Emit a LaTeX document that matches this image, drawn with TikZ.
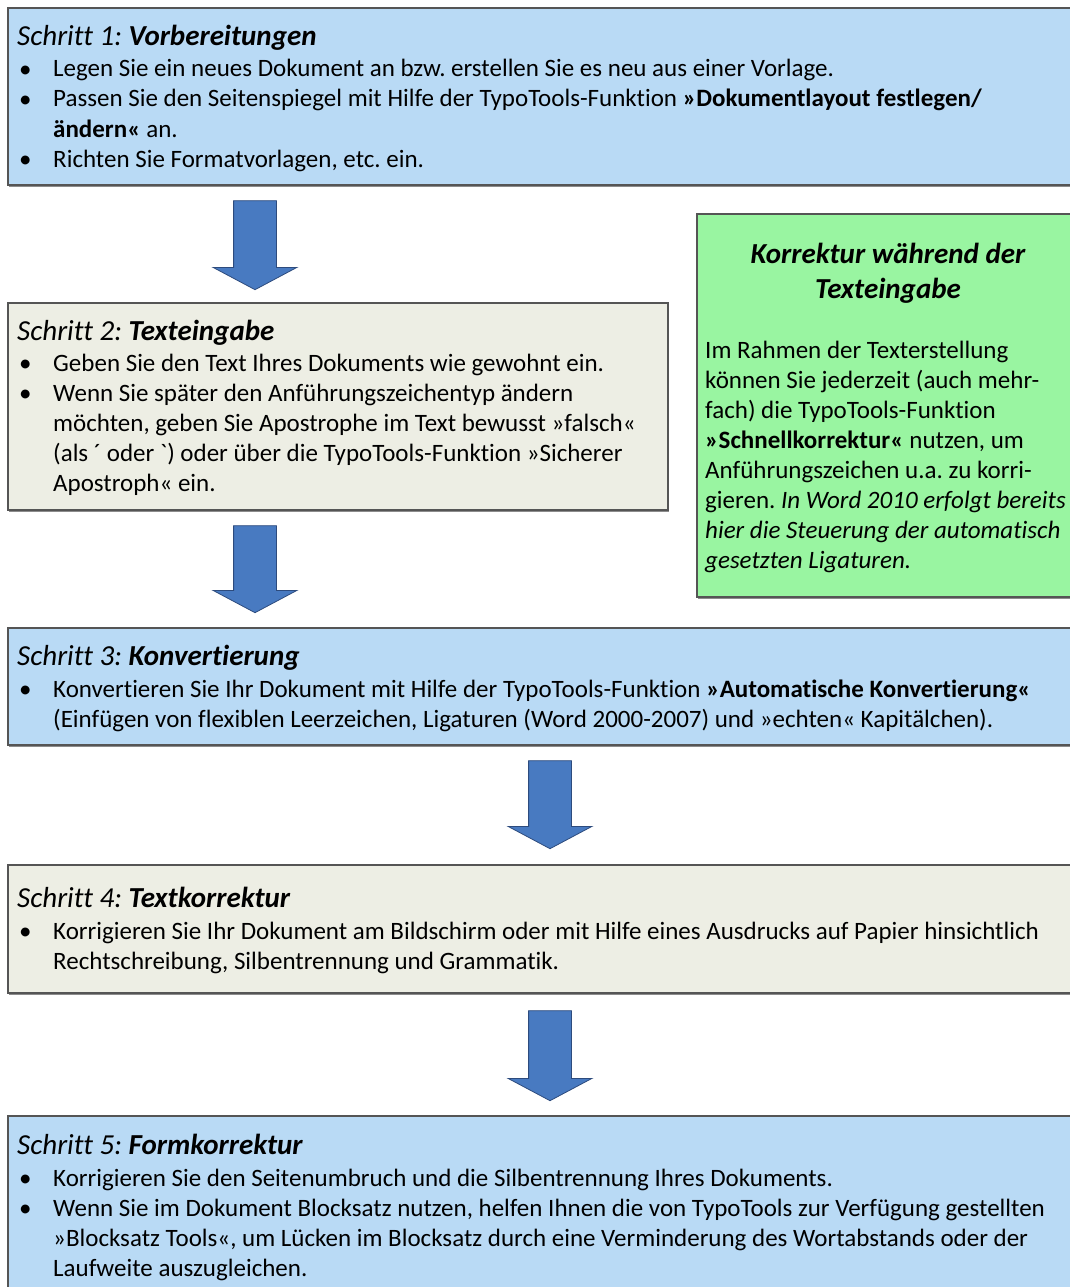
\documentclass[tikz,border=0pt]{standalone}
\usepackage{fontspec}
\setmainfont{Carlito}[Ligatures=NoCommon]
\newfontfamily\rawfont{Carlito}[Ligatures=ResetAll]
\usetikzlibrary{shapes.arrows,shadows}
\definecolor{boxblue}{RGB}{185,218,245}
\definecolor{boxbeige}{RGB}{237,238,228}
\definecolor{boxgreen}{RGB}{153,245,161}
\definecolor{arrowblue}{RGB}{72,122,193}
\definecolor{arrowedge}{RGB}{45,75,125}
\definecolor{boxedge}{RGB}{85,85,85}
\newcommand\mybul{\makebox[34pt][l]{\raisebox{-0.5pt}{•}}}
\newcommand\myind{\hspace*{34pt}}
\frenchspacing
\begin{document}
\begin{tikzpicture}[x=1pt,y=-1pt,
  stepbox/.style={rectangle, draw=boxedge, line width=1.3pt, anchor=north west, inner sep=0pt, outer sep=0pt,
    drop shadow={shadow xshift=1.2pt, shadow yshift=-1.6pt, fill=black, opacity=0.45}},
  bluebox/.style={stepbox, fill=boxblue},
  beigebox/.style={stepbox, fill=boxbeige},
  greenbox/.style={stepbox, fill=boxgreen},
  titletext/.style={anchor=base west, inner sep=0pt, font=\fontsize{29}{30}\selectfont\itshape},
  % base anchor of a multi-line node = baseline of its last line
  bodytext/.style={anchor=base west, inner sep=0pt, align=left, font=\fontsize{25}{30}\selectfont},
  flowarrow/.style={single arrow, draw=arrowedge, fill=arrowblue, line width=0.8pt, rotate=-90,
    inner xsep=0pt, inner ysep=21pt, single arrow head extend=20.5pt, single arrow tip angle=124}
]
\useasboundingbox (0,0) rectangle (1069,1287);

% boxes
\node[bluebox,  minimum width=1075pt, minimum height=177pt] (s1) at (8,8) {};
\node[beigebox, minimum width=660pt,  minimum height=207pt] (s2) at (8,303) {};
\node[greenbox, minimum width=385pt,  minimum height=383pt] (k)  at (697,214) {};
\node[bluebox,  minimum width=1075pt, minimum height=117pt] (s3) at (8,628) {};
\node[beigebox, minimum width=1075pt, minimum height=128pt] (s4) at (8,865) {};
\node[bluebox,  minimum width=1075pt, minimum height=200pt] (s5) at (8,1116) {};

% arrows
\node[flowarrow, minimum height=89pt] (a1) at (255,239.5) {};
\node[flowarrow, minimum height=87pt] (a2) at (255,563.5) {};
\node[flowarrow, minimum height=88pt] (a3) at (550,799) {};
\node[flowarrow, minimum height=90pt] (a4) at (550,1050) {};

% step 1
\node[titletext] (t1) at (17,46) {Schritt 1: \textbf{Vorbereitungen}};
\node[bodytext] (b1) at (19,167) {\mybul Legen Sie ein neues Dokument an bzw. erstellen Sie es neu aus einer Vorlage.\\
\mybul Passen Sie den Seitenspiegel mit Hilfe der TypoTools-Funktion \textbf{»Dokumentlayout festlegen/}\\
\myind\textbf{ändern«} an.\\
\mybul Richten Sie Formatvorlagen, etc. ein.};

% step 2
\node[titletext] (t2) at (17,340) {Schritt 2: \textbf{Texteingabe}};
\node[bodytext] (b2) at (19,491) {\mybul Geben Sie den Text Ihres Dokuments wie gewohnt ein.\\
\mybul Wenn Sie später den Anführungszeichentyp ändern\\
\myind möchten, geben Sie Apostrophe im Text bewusst »falsch«\\
\myind (als ´ oder {\rawfont `}) oder über die TypoTools-Funktion »Sicherer\\
\myind Apostroph« ein.};

% side box
\node[anchor=base, inner sep=0pt, align=center, font=\fontsize{29}{35}\selectfont\itshape\bfseries] (kt) at (888,298)
  {Korrektur während der\\Texteingabe};
\node[bodytext] (kb) at (705,568) {Im Rahmen der Texterstellung\\
können Sie jederzeit (auch mehr-\\
fach) die TypoTools-Funktion\\
\textbf{»Schnellkorrektur«} nutzen, um\\
Anführungszeichen u.a. zu korri-\\
gieren. \textit{In Word 2010 erfolgt bereits}\\
\textit{hier die Steuerung der automatisch}\\
\textit{gesetzten Ligaturen.}};

% step 3
\node[titletext] (t3) at (17,665) {Schritt 3: \textbf{Konvertierung}};
\node[bodytext] (b3) at (19,727) {\mybul Konvertieren Sie Ihr Dokument mit Hilfe der TypoTools-Funktion \textbf{»Automatische Konvertierung«}\\
\myind (Einfügen von flexiblen Leerzeichen, Ligaturen (Word 2000-2007) und »echten« Kapitälchen).};

% step 4
\node[titletext] (t4) at (17,907) {Schritt 4: \textbf{Textkorrektur}};
\node[bodytext] (b4) at (19,969) {\mybul Korrigieren Sie Ihr Dokument am Bildschirm oder mit Hilfe eines Ausdrucks auf Papier hinsichtlich\\
\myind Rechtschreibung, Silbentrennung und Grammatik.};

% step 5
\node[titletext] (t5) at (17,1154) {Schritt 5: \textbf{Formkorrektur}};
\node[bodytext] (b5) at (19,1276) {\mybul Korrigieren Sie den Seitenumbruch und die Silbentrennung Ihres Dokuments.\\
\mybul Wenn Sie im Dokument Blocksatz nutzen, helfen Ihnen die von TypoTools zur Verfügung gestellten\\
\myind »Blocksatz Tools«, um Lücken im Blocksatz durch eine Verminderung des Wortabstands oder der\\
\myind Laufweite auszugleichen.};
\end{tikzpicture}
\end{document}
